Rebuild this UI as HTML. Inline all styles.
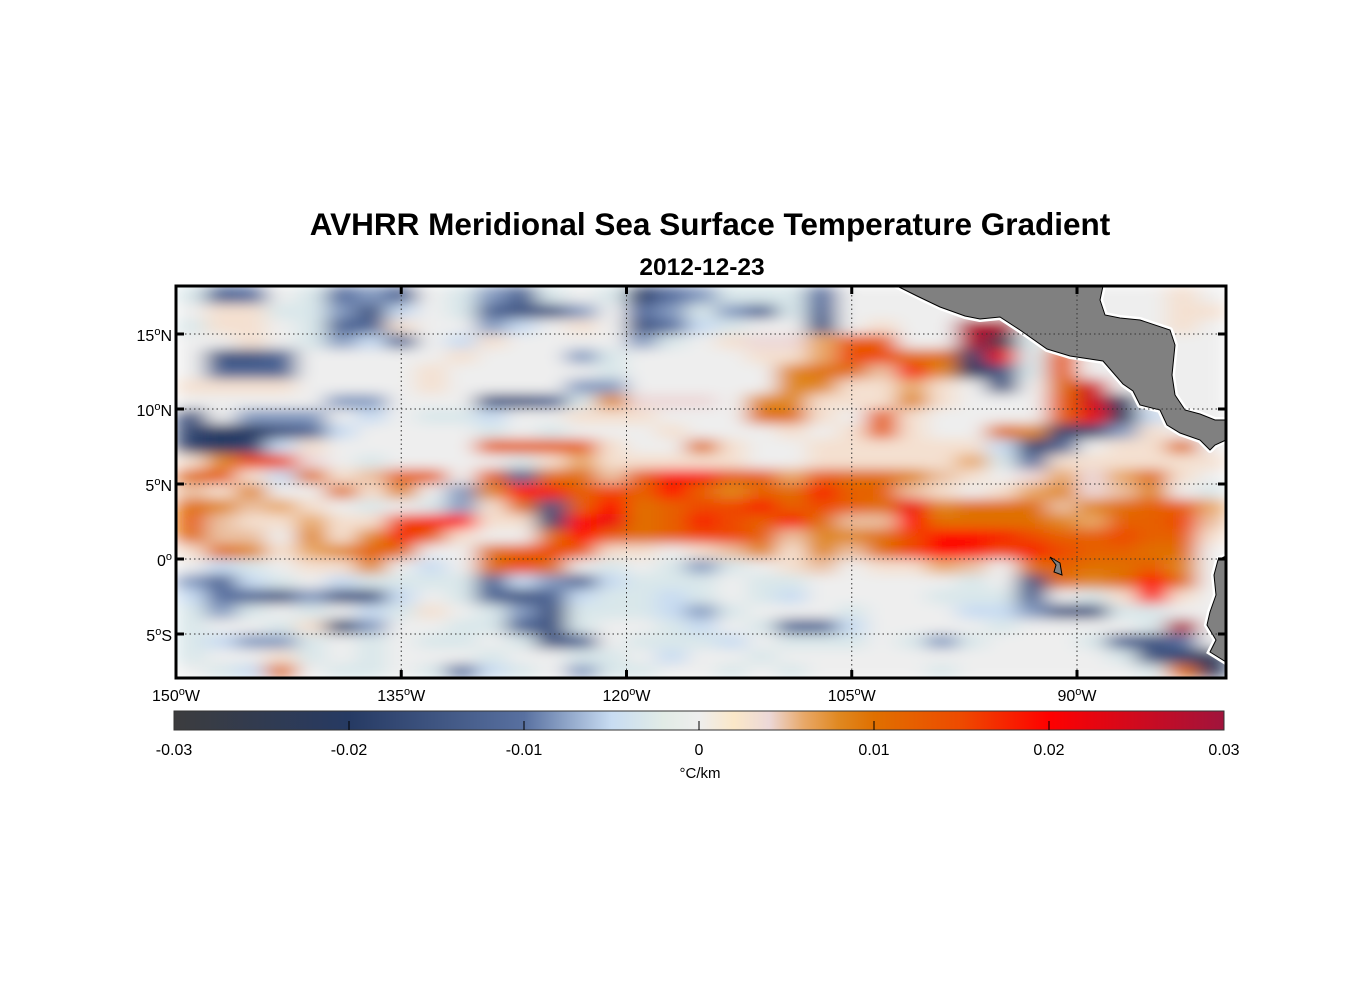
<!DOCTYPE html>
<html><head><meta charset="utf-8"><style>
html,body{margin:0;padding:0;background:#fff;}
svg{display:block;font-family:"Liberation Sans",Arial,sans-serif;}
</style></head><body>
<svg id="fig" width="1356" height="1000" viewBox="0 0 1356 1000">
<defs>
<filter id="blur" filterUnits="userSpaceOnUse" x="176" y="286" width="1050" height="392">
<feGaussianBlur stdDeviation="11 6" edgeMode="duplicate"/>
</filter>
<clipPath id="frameclip"><rect x="176" y="286" width="1050" height="392"/></clipPath>
<linearGradient id="cbgrad" x1="0" x2="1" y1="0" y2="0">
<stop offset="0" stop-color="#3c3c3e"/>
<stop offset="0.1667" stop-color="#263a63"/>
<stop offset="0.3333" stop-color="#5870a0"/>
<stop offset="0.4167" stop-color="#c8dcf2"/>
<stop offset="0.4667" stop-color="#e2ece6"/>
<stop offset="0.5" stop-color="#eeeeee"/>
<stop offset="0.5333" stop-color="#fbe8c8"/>
<stop offset="0.5667" stop-color="#ecd8d8"/>
<stop offset="0.6" stop-color="#e8a868"/>
<stop offset="0.6333" stop-color="#e08820"/>
<stop offset="0.6667" stop-color="#e07000"/>
<stop offset="0.75" stop-color="#ee4a00"/>
<stop offset="0.8333" stop-color="#ff0000"/>
<stop offset="1" stop-color="#a0143c"/>
</linearGradient>
</defs>
<text x="710" y="235" text-anchor="middle" font-size="31.5" font-weight="bold">AVHRR Meridional Sea Surface Temperature Gradient</text>
<text x="702" y="275" text-anchor="middle" font-size="24.5" font-weight="bold">2012-12-23</text>
<g id="heat" clip-path="url(#frameclip)"><g id="cells" filter="url(#blur)"></g></g>
<g id="land">
<polygon points="897,286 917,296 940,307 965,316 980,319 1000,317 1020,330 1047,349 1070,356 1103,361 1123,384 1133,391 1140,405 1160,410 1167,425 1180,433 1200,440 1210,450 1215,445 1226,440 1226,420 1215,420 1200,414 1185,410 1175,395 1172,375 1175,345 1170,330 1140,320 1120,318 1105,315 1100,300 1103,286" fill="#808080" stroke="#fff" stroke-width="6" stroke-linejoin="round"/>
<polygon points="897,286 917,296 940,307 965,316 980,319 1000,317 1020,330 1047,349 1070,356 1103,361 1123,384 1133,391 1140,405 1160,410 1167,425 1180,433 1200,440 1210,450 1215,445 1226,440 1226,420 1215,420 1200,414 1185,410 1175,395 1172,375 1175,345 1170,330 1140,320 1120,318 1105,315 1100,300 1103,286" fill="#808080" stroke="#000" stroke-width="1"/>
<polygon points="1226,556 1218,560 1214,575 1216,595 1210,612 1207,625 1216,640 1210,652 1226,662" fill="#808080" stroke="#fff" stroke-width="6"/>
<polygon points="1226,556 1218,560 1214,575 1216,595 1210,612 1207,625 1216,640 1210,652 1226,662" fill="#808080" stroke="#000" stroke-width="1"/>
<polygon points="1050,557 1056,565 1054,572 1062,575 1060,563" fill="#808080" stroke="#000" stroke-width="1"/>
</g>
<g id="grid"></g>
<rect x="176" y="286" width="1050" height="392" fill="none" stroke="#000" stroke-width="3"/>
<g id="axes"></g>
<g id="colorbar">
<rect x="174" y="711" width="1050" height="19" fill="url(#cbgrad)" stroke="#333" stroke-width="1"/>
</g>
<text x="700" y="778" text-anchor="middle" font-size="15">°C/km</text>
</svg>
<script>
const lonTicks = [150, 135, 120, 105, 90];
const latTicks = [15, 10, 5, 0, -5];
const latLabels = ["15","10","5","0","5"];
const latHemis = ["N","N","N","","S"];
const cbTicks = [-0.03, -0.02, -0.01, 0, 0.01, 0.02, 0.03];
const cbLabels = ["-0.03","-0.02","-0.01","0","0.01","0.02","0.03"];
// grid: 2deg lon columns from 150W eastward, 1deg lat rows from 18N southward; values in 1e-3 degC/km
const lonStart = 150, lonStep = 2, latStart = 18, latStep = 1;
const row00=[-3,-12,-10,0,-3,-10,-8,-12,0,-3,-8,-12,-3,0,-3,-18,-10,-8,-3,-3,-3,-10,0,0,0,0,0,0,0,0,0,0,0,3,0];
const row01=[0,3,3,-3,-3,-8,-15,-5,0,-3,-12,-15,-15,-8,0,-10,-8,-3,-8,-12,-3,-12,0,0,0,0,0,0,0,0,0,0,0,3,3];
const row02=[-3,3,3,0,-3,-12,-12,3,0,0,-8,-5,0,3,0,-15,-10,-5,-3,0,0,-15,0,3,0,0,28,28,0,0,0,0,0,3,0];
const row03=[0,0,3,0,-3,-8,-5,-12,0,-5,3,0,0,0,0,-8,-3,0,3,4,4,6,12,12,0,0,28,-25,-3,3,0,0,0,0,0];
const row04=[0,-15,-15,-12,0,0,0,0,0,3,0,0,0,-8,-3,0,0,0,0,3,3,6,15,15,10,10,-18,22,-3,12,0,0,0,0,0];
const row05=[0,-12,-12,-12,0,0,0,0,3,0,0,0,0,0,-3,0,0,0,0,0,8,10,10,5,18,8,-20,-15,-3,12,0,0,0,0,0];
const row06=[3,3,3,3,0,0,0,0,3,0,0,0,0,-8,-8,0,0,0,0,0,8,8,3,3,6,3,0,-15,0,10,25,0,0,0,0];
const row07=[0,0,0,0,0,-8,-8,0,0,0,-15,-15,-12,-3,8,4,4,4,0,8,8,3,3,3,8,3,0,0,0,12,25,-20,0,0,0];
const row08=[-15,0,-8,-8,-8,0,-5,0,-3,-3,-5,0,0,3,3,3,0,0,0,10,10,3,0,12,3,0,0,0,0,12,22,-22,-5,0,0];
const row09=[-18,-20,-20,-15,-12,-5,0,0,0,0,-3,0,-3,0,0,0,3,0,0,0,3,0,3,12,3,0,0,10,8,-18,-18,-8,3,0,0];
const row10=[-18,-20,-18,-5,3,0,0,0,0,0,12,12,12,12,3,0,0,10,3,0,0,3,3,3,3,3,3,-5,-18,-12,0,3,3,10,0];
const row11=[3,8,15,15,4,0,-3,0,0,0,0,-3,3,6,3,3,3,3,3,0,0,3,3,3,3,3,6,-3,-10,3,3,3,3,3,3];
const row12=[10,12,3,-5,10,3,5,12,12,0,12,-12,10,10,5,12,18,18,12,12,6,12,10,10,8,5,3,0,4,6,4,6,10,3,0];
const row13=[5,3,8,0,0,10,3,8,0,-8,8,20,18,12,15,12,20,12,8,12,10,18,12,12,5,3,0,3,6,8,4,5,8,0,-3];
const row14=[10,8,5,6,3,0,-3,0,-3,-8,3,10,-15,12,20,10,12,15,15,18,12,15,12,10,22,8,10,10,10,5,8,10,12,12,6];
const row15=[12,5,3,3,6,3,3,15,18,20,3,3,-18,20,22,10,12,18,15,12,18,10,5,5,20,10,10,10,10,8,6,12,12,15,5];
const row16=[10,5,5,0,8,3,8,18,12,3,0,0,10,20,12,10,12,15,15,12,5,8,8,10,15,20,20,18,15,12,12,15,12,12,3];
const row17=[3,10,8,3,6,8,12,10,0,0,10,12,15,12,3,3,0,3,5,8,3,8,5,10,15,20,18,15,18,15,12,12,10,10,0];
const row18=[0,-5,-3,0,3,3,8,0,-5,0,10,15,10,0,-3,0,-3,-8,-3,0,3,5,0,3,3,6,5,0,10,12,10,10,12,8,0];
const row19=[-8,-12,-5,-3,0,-5,-3,-3,-3,-3,-12,-5,-8,-12,-5,-3,-3,-3,0,-3,-3,0,0,0,0,0,-3,0,-15,10,8,10,20,10,0];
const row20=[-5,-10,-12,-15,-8,-15,-15,-5,0,-3,-12,-15,-12,-5,-3,-3,-5,-3,0,-3,-5,0,0,0,0,-3,-3,-3,-12,0,-3,3,18,3,0];
const row21=[-3,-8,-3,0,-3,0,-5,-3,3,0,-3,-8,-15,-3,-3,-3,-5,-8,-3,0,0,0,-3,0,0,0,-5,-5,-8,-15,-15,-3,-3,0,0];
const row22=[-3,0,0,-3,3,-18,-8,0,0,-3,-3,-12,-15,-3,0,0,-3,-5,0,-3,-12,-12,-5,0,0,0,0,-3,0,0,0,0,-3,28,0];
const row23=[-3,-5,-8,-8,-3,0,-3,0,-3,-3,0,-3,-15,-12,0,-3,-3,-3,-5,0,-3,-3,-3,0,-3,-8,-3,0,0,0,-3,-12,-15,-10,0];
const row24=[-3,0,0,3,-3,0,-3,0,0,0,-3,0,0,-3,-3,0,-5,0,0,-3,0,0,0,0,0,0,0,0,0,0,0,-3,-15,-18,-22];
const row25=[0,-3,-5,10,0,-3,-3,0,-3,-10,-5,-3,0,-8,-3,-3,0,0,-3,0,-3,0,0,0,0,-3,0,0,0,0,0,0,-3,10,-22];
const gradientRows=[row00,row01,row02,row03,row04,row05,row06,row07,row08,row09,row10,row11,row12,row13,row14,row15,row16,row17,row18,row19,row20,row21,row22,row23,row24,row25];

const NS='http://www.w3.org/2000/svg';
const X0=176, X1=1226, Y0=286, Y1=678;
function xScale(lonW){ return X0 + (150 - lonW) * (901/60); }
function yScale(lat){ return 559 - lat * 15; }
function cbScale(v){ return 174 + (v + 0.03) / 0.06 * 1050; }
const cmap=[[-30,[60,60,62]],[-20,[38,58,99]],[-10,[88,112,160]],[-5,[200,220,242]],[-2,[226,236,230]],[0,[238,238,238]],[2,[251,232,200]],[4,[236,216,216]],[6,[232,168,104]],[8,[224,136,32]],[10,[224,112,0]],[15,[238,74,0]],[20,[255,0,0]],[30,[160,20,60]]];
function color(v){
  if(v<=cmap[0][0]) v=cmap[0][0];
  if(v>=cmap[cmap.length-1][0]) v=cmap[cmap.length-1][0];
  for(let i=0;i<cmap.length-1;i++){
    const a=cmap[i],b=cmap[i+1];
    if(v>=a[0]&&v<=b[0]){const t=(v-a[0])/(b[0]-a[0]);
      const c=a[1].map((q,k)=>Math.round(q+(b[1][k]-q)*t));
      return 'rgb('+c.join(',')+')';}
  }
  return '#eee';
}
const cells=document.getElementById('cells');
gradientRows.forEach((row,r)=>{
  const latTop=latStart - r*latStep, latBot=latTop-latStep;
  let yt=yScale(latTop), yb=yScale(latBot);
  if(r===0) yt=Y0;
  if(r===gradientRows.length-1) yb=Y1;
  row.forEach((v,c)=>{
    const lw=lonStart - c*lonStep;
    const xa=xScale(lw), xb=(c===row.length-1)?X1:xScale(lw-lonStep);
    const rc=document.createElementNS(NS,'rect');
    rc.setAttribute('x',xa); rc.setAttribute('y',yt);
    rc.setAttribute('width',xb-xa+0.5); rc.setAttribute('height',yb-yt+0.5);
    rc.setAttribute('fill',color(v));
    
    
    cells.appendChild(rc);
  });
});
const grid=document.getElementById('grid'), axes=document.getElementById('axes');
function line(p,x1,y1,x2,y2,st,w,dash,name){
  const l=document.createElementNS(NS,'line');
  l.setAttribute('x1',x1);l.setAttribute('y1',y1);l.setAttribute('x2',x2);l.setAttribute('y2',y2);
  l.setAttribute('stroke',st);l.setAttribute('stroke-width',w);
  if(dash) l.setAttribute('stroke-dasharray',dash);
  
  
  p.appendChild(l);
}
function label(p,x,y,main,sup,tail,anchor,name,size){
  const t=document.createElementNS(NS,'text');
  t.setAttribute('x',x);t.setAttribute('y',y);t.setAttribute('text-anchor',anchor);t.setAttribute('font-size',size);
  
  
  const a=document.createElementNS(NS,'tspan');a.textContent=main;t.appendChild(a);
  if(sup){const s=document.createElementNS(NS,'tspan');s.setAttribute('dy','-6');s.setAttribute('font-size','11');s.textContent=sup;t.appendChild(s);
    const e=document.createElementNS(NS,'tspan');e.setAttribute('dy','6');e.textContent=tail;t.appendChild(e);}
  p.appendChild(t);
}
latTicks.forEach((lat,i)=>{
  const y=yScale(lat);
  line(grid,X0,y,X1,y,'#333',1,'1.5 3','lat-gridline');
  line(axes,X0,y,X0+8,y,'#000',3,null,'y-tick-left');
  line(axes,X1-8,y,X1,y,'#000',3,null,'y-tick-right');
  label(axes,172,y+7,latLabels[i],'o',latHemis[i],'end','y-tick-label',16);
});
lonTicks.forEach((lw,i)=>{
  const x=xScale(lw);
  if(i>0){ line(grid,x,Y0,x,Y1,'#333',1,'1.5 3','lon-gridline');
    line(axes,x,Y0,x,Y0+8,'#000',3,null,'x-tick-top');
    line(axes,x,Y1-8,x,Y1,'#000',3,null,'x-tick-bottom'); }
  label(axes,x,701,String(lw),'o','W','middle','x-tick-label',16);
});
const cb=document.getElementById('colorbar');
cbTicks.forEach((v,i)=>{
  const x=cbScale(v);
  if(i>0&&i<cbTicks.length-1) line(cb,x,730,x,721,'#000',1,null,'colorbar-tick');
  const t=document.createElementNS(NS,'text');
  t.setAttribute('x',x);t.setAttribute('y',755);t.setAttribute('text-anchor','middle');t.setAttribute('font-size','16');
  
  
  t.textContent=cbLabels[i];cb.appendChild(t);
});
</script>
</body></html>
